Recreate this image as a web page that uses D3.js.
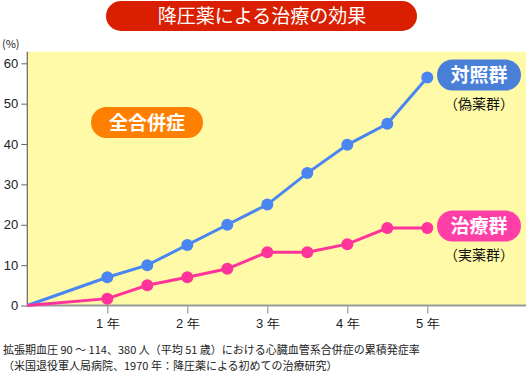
<!DOCTYPE html>
<html>
<head>
<meta charset="utf-8">
<script src="https://cdn.jsdelivr.net/npm/d3@7"></script>
<style>
  body { margin: 0; background: #fff; }
  svg { display: block; font-family: "Noto Sans CJK JP", sans-serif; }
</style>
</head>
<body>
<svg id="chart" width="526" height="373"></svg>
<script>
// years (half-year steps)
var years = [0, 1, 1.5, 2, 2.5, 3, 3.5, 4, 4.5, 5];
var controlValues = [0, 7, 10, 15, 20, 25, 32.8, 39.8, 45, 56.5];
var treatedValues = [0, 1.7, 5, 7, 9.1, 13.2, 13.2, 15.2, 19.2, 19.2];
var yTicks = [0, 10, 20, 30, 40, 50, 60];
var xTicks = [1, 2, 3, 4, 5];
var xTickLabels = ["1 年", "2 年", "3 年", "4 年", "5 年"];

var svg = d3.select("#chart");
var plotLeft = 27.3, plotTop = 51.7, plotRight = 526, plotBottom = 305.5;

var x = d3.scaleLinear().domain([0, 5]).range([plotLeft, plotLeft + 400]);
var y = d3.scaleLinear().domain([0, 60]).range([plotBottom, 63.3]);

// plot background
svg.append("rect")
  .attr("x", plotLeft).attr("y", plotTop)
  .attr("width", plotRight - plotLeft).attr("height", plotBottom - plotTop)
  .attr("fill", "#fffaa8");

// title pill
svg.append("rect")
  .attr("x", 106).attr("y", 1).attr("width", 311).attr("height", 30)
  .attr("rx", 15).attr("fill", "#d91f00");
svg.append("text")
  .attr("x", 262).attr("y", 23)
  .attr("text-anchor", "middle").attr("fill", "#fff")
  .attr("font-size", 19).text("降圧薬による治療の効果");

// y axis
var yAxis = svg.append("g")
  .attr("transform", "translate(" + plotLeft + ",0)")
  .call(d3.axisLeft(y).tickValues(yTicks).tickSize(6).tickPadding(3));
yAxis.select(".domain").remove();
yAxis.selectAll(".tick line").attr("stroke", "#666");
yAxis.selectAll(".tick text")
  .attr("font-family", "Liberation Sans, Arial, sans-serif")
  .attr("font-size", 13).attr("fill", "#222");
svg.append("line")
  .attr("x1", plotLeft).attr("x2", plotLeft).attr("y1", plotTop).attr("y2", plotBottom)
  .attr("stroke", "#666").attr("stroke-width", 1.2);

svg.append("text")
  .attr("x", 2).attr("y", 48)
  .attr("font-size", 11).attr("fill", "#222").text("(%)");

// x axis
var xAxis = svg.append("g")
  .attr("transform", "translate(0," + plotBottom + ")")
  .call(d3.axisBottom(x).tickValues(xTicks).tickSize(8).tickPadding(5)
    .tickFormat(function(d, i) { return xTickLabels[i]; }));
xAxis.select(".domain").remove();
xAxis.selectAll(".tick line").attr("stroke", "#888");
xAxis.selectAll(".tick text")
  .attr("font-size", 13).attr("fill", "#222");
svg.append("line")
  .attr("x1", plotLeft).attr("x2", plotRight).attr("y1", plotBottom).attr("y2", plotBottom)
  .attr("stroke", "#999").attr("stroke-width", 2);

// lines
var series = [
  { values: controlValues, color: "#4a86f2" },
  { values: treatedValues, color: "#ff3399" }
];
var line = d3.line()
  .x(function(d, i) { return x(years[i]); })
  .y(function(d) { return y(d); });

series.forEach(function(s) {
  svg.append("path")
    .datum(s.values)
    .attr("d", line)
    .attr("fill", "none")
    .attr("stroke", s.color)
    .attr("stroke-width", 3);
  svg.append("g").selectAll("circle")
    .data(s.values.slice(1))
    .enter().append("circle")
    .attr("cx", function(d, i) { return x(years[i + 1]); })
    .attr("cy", function(d) { return y(d); })
    .attr("r", 6)
    .attr("fill", s.color);
});

// labels
function pill(cx, cy, w, h, color, label) {
  svg.append("rect")
    .attr("x", cx - w / 2).attr("y", cy - h / 2)
    .attr("width", w).attr("height", h).attr("rx", h / 2)
    .attr("fill", color);
  svg.append("text")
    .attr("x", cx).attr("y", cy + 7)
    .attr("text-anchor", "middle").attr("fill", "#fff")
    .attr("font-size", 19).attr("font-weight", "bold").text(label);
}
pill(147, 122.5, 112, 31, "#ff7f00", "全合併症");
pill(479, 75, 84, 31, "#4a7fd8", "対照群");
pill(479, 226, 84, 31, "#ff3fa8", "治療群");

svg.append("text").attr("x", 479).attr("y", 109)
  .attr("text-anchor", "middle").attr("font-size", 14).attr("fill", "#111")
  .text("（偽薬群）");
svg.append("text").attr("x", 479).attr("y", 260)
  .attr("text-anchor", "middle").attr("font-size", 14).attr("fill", "#111")
  .text("（実薬群）");

// footnotes
svg.append("text").attr("x", 3).attr("y", 354)
  .attr("font-size", 11).attr("fill", "#222")
  .text("拡張期血圧 90 ～ 114、380 人（平均 51 歳）における心臓血管系合併症の累積発症率");
svg.append("text").attr("x", 3).attr("y", 370)
  .attr("font-size", 11).attr("fill", "#222")
  .text("（米国退役軍人局病院、1970 年：降圧薬による初めての治療研究）");
</script>
</body>
</html>
